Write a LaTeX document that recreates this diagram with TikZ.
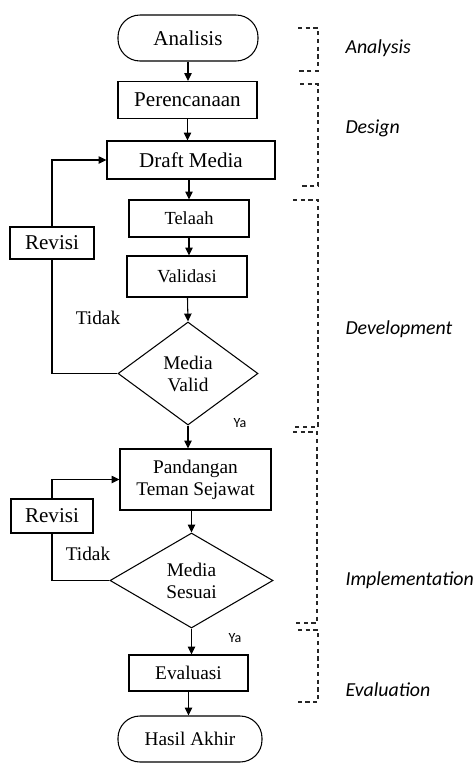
\documentclass[tikz,border=0pt]{standalone}
\usepackage{fontspec}
\setmainfont{Liberation Serif}
\newfontfamily\calibri{Carlito}
\usetikzlibrary{shapes.geometric,arrows.meta}

\begin{document}
\begin{tikzpicture}[x=0.02cm,y=-0.02cm,line width=0.6pt,
    procbox/.style 2 args={draw,minimum width=#1*0.02cm,minimum height=#2*0.02cm,inner sep=0pt,align=center},
    termbox/.style 2 args={procbox={#1}{#2},rounded corners=0.44cm},
    decide/.style n args={3}{draw,diamond,inner sep=0pt,aspect=#3,minimum width=#1*0.02cm,minimum height=#2*0.02cm,align=center},
    arr/.style={-{Triangle[length=4.5pt,width=4.2pt]}},
    phase/.style={dashed,dash pattern=on 2.4pt off 2pt,black!85},
    fbig/.style={font=\fontsize{12}{13.5}\selectfont},
    fmid/.style={font=\fontsize{11}{12.5}\selectfont},
    fsmall/.style={font=\fontsize{10.5}{12}\selectfont}]
  \useasboundingbox (0,0) rectangle (473,765);

  \node[termbox={140}{46},fbig]  (ana)    at (188,38)    {Analisis};
  \node[procbox={139}{37},fbig]  (per)    at (187.5,100) {Perencanaan};
  \node[procbox={168}{38},fbig]  (draft)  at (191,160)   {Draft Media};
  \node[procbox={120}{37},fsmall] (tel)   at (189,218.5) {Telaah};
  \node[procbox={120}{41},fsmall] (val)   at (187,276.5) {Validasi};
  \node[decide={140}{103}{1.36},fmid] (valid) at (188,373.5) {Media\\Valid};
  \node[procbox={84}{32},fbig]   (rev1)   at (52,243)    {Revisi};
  \node[fmid]                    (tidak1) at (98,318)    {Tidak};
  \node[font=\calibri\fontsize{8}{9}\selectfont] (ya1) at (240,423) {Ya};
  \node[procbox={151}{61},fmid]  (pand)   at (195.5,479.5) {Pandangan\\Teman Sejawat};
  \node[procbox={82}{34},fbig]   (rev2)   at (52,516)    {Revisi};
  \node[fmid]                    (tidak2) at (88,554)    {Tidak};
  \node[decide={163}{95}{1.72},fmid] (sesuai) at (191.5,580.5) {Media\\Sesuai};
  \node[font=\calibri\fontsize{8}{9}\selectfont] (ya2) at (235,638) {Ya};
  \node[procbox={119}{36},fmid]  (eval)   at (188.5,673) {Evaluasi};
  \node[termbox={144}{46},fmid]  (hasil)  at (190,739)   {Hasil Akhir};

  \draw[arr] (ana)    -- (ana |- per.north);
  \draw[arr] (per)    -- (per |- draft.north);
  \draw[arr] (tel |- draft.south) -- (tel.north);
  \draw[arr] (tel)    -- (tel |- val.north);
  \draw[arr] (val)    -- (valid.north);
  \draw[arr] (valid)  -- (valid |- pand.north);
  \draw[arr] (sesuai |- pand.south) -- (sesuai.north);
  \draw[arr] (sesuai) -- (sesuai |- eval.north);
  \draw[arr] (eval)   -- (eval |- hasil.north);

  \draw (valid.west) -| (rev1.south);
  \draw[arr] (rev1.north) |- (draft.west);
  \draw (sesuai.west) -| (rev2.south);
  \draw[arr] (rev2.north) |- (pand.west);

  \foreach \xl/\xr/\ya/\yb/\yl/\txt [count=\i] in {298/318/28/71/48/Analysis,
      300/318/84/186/128/Design, 293/318/200/427/329/Development,
      293/317/432/623/580/Implementation, 298/318/630/702/690/Evaluation}
  {
    \draw[phase] (\xl,\ya) -- (\xr,\ya) -- (\xr,\yb) -- (\xl,\yb);
    \node[anchor=west,inner sep=0pt,font=\calibri\itshape\fontsize{11.3}{13}\selectfont] (phase\i) at (345,\yl) {\txt};
  }
\end{tikzpicture}
\end{document}
